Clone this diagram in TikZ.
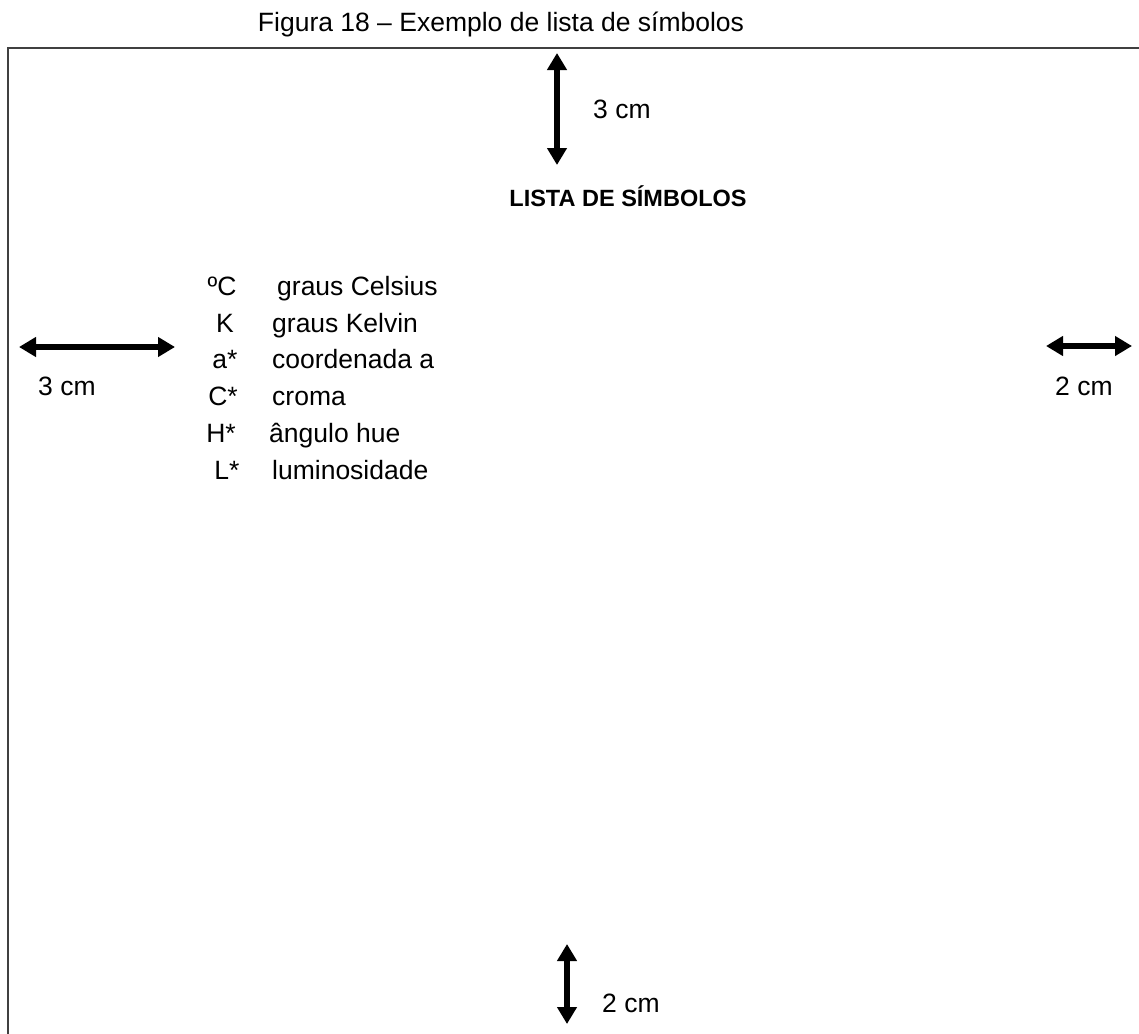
\documentclass[tikz,border=0pt]{standalone}
\usepackage{fontspec}
\setmainfont{Liberation Sans}
\usetikzlibrary{arrows.meta}
\begin{document}
\begin{tikzpicture}[x=1pt,y=-1pt,
  txt/.style={inner sep=0pt,font=\fontsize{26.5}{30}\selectfont},
  head/.style={inner sep=0pt,font=\fontsize{23.5}{28}\selectfont\bfseries},
  dim/.style={line width=5.5pt,{Triangle[width=19pt,length=17pt]}-{Triangle[width=19pt,length=17pt]}},
  frameline/.style={line width=1.8pt,draw=black!75}]
\useasboundingbox (0,0) rectangle (1139,1033);
% frame
\coordinate (fbl) at (8,1040);
\coordinate (ftl) at (8,48);
\coordinate (ftr) at (1145,48);
\draw[frameline] (fbl) -- (ftl) -- (ftr);
% title
\node[txt] (title) at (501,24) {Figura 18 – Exemplo de lista de símbolos};
% top dimension
\coordinate (t1) at (557,53);
\coordinate (t2) at (557,165);
\draw[dim] (t1) -- (t2);
\node[txt,anchor=west] (tlab) at (593,109) {3 cm};
% heading
\node[head] (heading) at (628,196) {LISTA DE SÍMBOLOS};
% left dimension
\coordinate (l1) at (19,347);
\coordinate (l2) at (175,347);
\draw[dim] (l1) -- (l2);
\node[txt,anchor=west] (llab) at (38,386) {3 cm};
% right dimension
\coordinate (r1) at (1046,346);
\coordinate (r2) at (1132,346);
\draw[dim] (r1) -- (r2);
\node[txt,anchor=west] (rlab) at (1055,386) {2 cm};
% bottom dimension
\coordinate (b1) at (567,944);
\coordinate (b2) at (567,1024);
\draw[dim] (b1) -- (b2);
\node[txt,anchor=west] (blab) at (602,1003) {2 cm};
% symbol list
\node[txt,anchor=mid] (s1) at (222,293) {ºC};
\node[txt,anchor=mid west] (d1) at (277,293) {graus Celsius};
\node[txt,anchor=mid] (s2) at (225,330) {K};
\node[txt,anchor=mid west] (d2) at (272,330) {graus Kelvin};
\node[txt,anchor=mid] (s3) at (225,366) {a*};
\node[txt,anchor=mid west] (d3) at (272,366) {coordenada a};
\node[txt,anchor=mid] (s4) at (223,403) {C*};
\node[txt,anchor=mid west] (d4) at (272,403) {croma};
\node[txt,anchor=mid] (s5) at (221,440) {H*};
\node[txt,anchor=mid west] (d5) at (269,440) {ângulo hue};
\node[txt,anchor=mid] (s6) at (227,477) {L*};
\node[txt,anchor=mid west] (d6) at (272,477) {luminosidade};
\end{tikzpicture}
\end{document}
